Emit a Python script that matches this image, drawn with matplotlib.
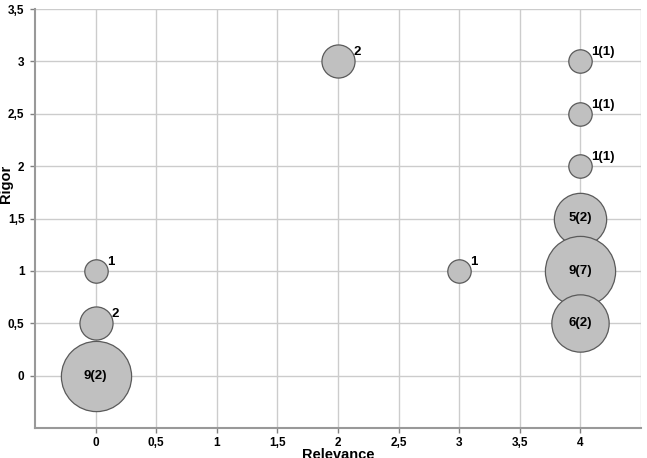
import matplotlib
matplotlib.use("Agg")
import matplotlib.pyplot as plt
import numpy as np

plt.rcParams['font.family'] = ['Liberation Sans', 'DejaVu Sans']

relevance = [0, 0, 0, 2, 3, 4, 4, 4, 4, 4, 4]
rigor = [0, 0.5, 1, 3, 1, 3, 2.5, 2, 1.5, 1, 0.5]
counts = [9, 2, 1, 2, 1, 1, 1, 1, 5, 9, 6]
labels = ["9(2)", "2", "1", "2", "1", "1(1)", "1(1)", "1(1)", "5(2)", "9(7)", "6(2)"]

xticks = [0, 0.5, 1, 1.5, 2, 2.5, 3, 3.5, 4]
yticks = [0, 0.5, 1, 1.5, 2, 2.5, 3, 3.5]

def fmt(v):
    return ("%g" % v).replace('.', ',')

dpi = 100
fig = plt.figure(figsize=(6.47, 4.58), dpi=dpi)
W, H = 647, 458
left, right, top, bottom = 35, 641, 9, 428
ax = fig.add_axes([left / W, 1 - bottom / H, (right - left) / W, (bottom - top) / H])
ax.set_xlim(-0.5, 4.5)
ax.set_ylim(-0.5, 3.5)

grid_c = '#cccccc'
for xv in xticks + [4.5]:
    ax.axvline(xv, color=grid_c, lw=1.0, zorder=0)
for yv in yticks:
    ax.axhline(yv, color=grid_c, lw=1.0, zorder=0)

r1_px = 11.7
pt_per_px = 72.0 / dpi
sizes = [(2 * r1_px * np.sqrt(c) * pt_per_px) ** 2 for c in counts]
for i in range(len(counts)):
    ax.scatter([relevance[i]], [rigor[i]], s=sizes[i], facecolor='#c0c0c0',
               edgecolor='#5a5a5a', linewidth=0.9, zorder=3)

for i in range(len(counts)):
    r = r1_px * np.sqrt(counts[i])
    if counts[i] >= 5:
        ax.annotate(labels[i], (relevance[i], rigor[i]), ha='center', va='center',
                    fontsize=9.5, fontweight='bold', zorder=5)
    else:
        ax.annotate(labels[i], (relevance[i], rigor[i]), xytext=(r * 0.95, 3),
                    textcoords='offset pixels', ha='left', va='bottom',
                    fontsize=9.5, fontweight='bold', zorder=5)

ax.set_xticks(xticks)
ax.set_xticklabels([fmt(v) for v in xticks])
ax.set_yticks(yticks)
ax.set_yticklabels([fmt(v) for v in yticks])
ax.tick_params(axis='both', direction='out', length=3.5, width=1, color='#808080',
               labelsize=8.5)
ax.tick_params(axis='x', pad=3)
ax.tick_params(axis='y', pad=4)
for lab in ax.get_xticklabels() + ax.get_yticklabels():
    lab.set_fontweight('bold')

for side in ['top', 'right']:
    ax.spines[side].set_visible(False)
for side in ['left', 'bottom']:
    ax.spines[side].set_color('#999999')
    ax.spines[side].set_linewidth(1.5)

fig.text(338 / W, 1 - 448 / H, "Relevance", ha='center', va='top',
         fontsize=10.5, fontweight='bold')
fig.text(-1 / W, 1 - 184 / H, "Rigor", ha='left', va='center', rotation=90,
         fontsize=10.5, fontweight='bold')

fig.savefig("out.png", dpi=dpi)
